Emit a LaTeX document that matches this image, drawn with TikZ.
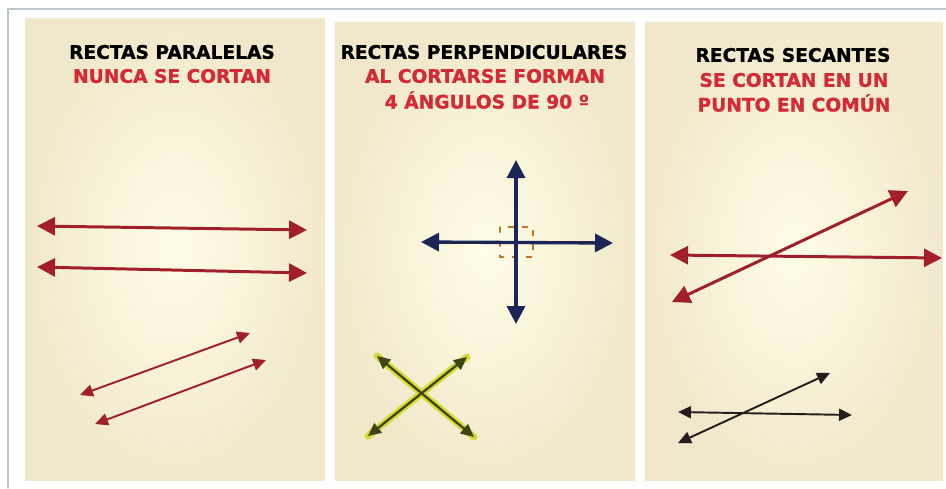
\documentclass[tikz,border=0pt]{standalone}
\usepackage{fontspec}
\setmainfont{DejaVu Sans}
\newfontfamily\headfont{DejaVu Sans Bold}[FakeBold=1.2]
\usetikzlibrary{arrows.meta}
\definecolor{frameGray}{HTML}{BCC6CE}
\definecolor{paperIn}{HTML}{FFFDE6}
\definecolor{paperOut}{HTML}{F1E8CB}
\definecolor{titleRed}{HTML}{D42A34}
\definecolor{lineRed}{HTML}{A11F2B}
\definecolor{lineNavy}{HTML}{1C2656}
\definecolor{lineOlive}{HTML}{3F4512}
\definecolor{glowYel}{HTML}{D4DC36}
\definecolor{markOrange}{HTML}{C8731E}
\definecolor{lineBlack}{HTML}{261E1E}

\begin{document}
\begin{tikzpicture}[
  x=0.02cm, y=-0.02cm,
  line cap=round,
  panel/.style={inner color=paperIn, outer color=paperOut},
  headblack/.style={font=\headfont\fontsize{10.6}{12}\selectfont, text=black, inner sep=0pt},
  headred/.style={font=\headfont\fontsize{10.6}{12}\selectfont, text=titleRed, inner sep=0pt},
  bigline/.style={line width=1.7pt, >={Triangle[length=3.6mm,width=3.6mm]}, <->},
  smallline/.style={line width=1.1pt, >={Triangle[length=2.6mm,width=2.4mm]}, <->}
]
  \useasboundingbox (0,0) rectangle (946,488);

  % Page frame
  \draw[frameGray, line width=0.6pt] (8,488) -- (8,9) -- (946,9);

  % Panels
  \shade[panel] (25,18) rectangle (325,480);
  \shade[panel] (335,22) rectangle (635,480);
  \shade[panel] (645,22) rectangle (943,480);

  % Titles
  \node[headblack] (parTitle) at (172,52) {RECTAS PARALELAS};
  \node[headred] (parText) at (172,76) {NUNCA SE CORTAN};

  \node[headblack] (perTitle) at (484,52) {RECTAS PERPENDICULARES};
  \node[headred] (perTextA) at (485,76) {AL CORTARSE FORMAN};
  \node[headred] (perTextB) at (487,100) {4 ÁNGULOS DE 90 º};

  \node[headblack] (secTitle) at (793,55) {RECTAS SECANTES};
  \node[headred] (secTextA) at (794,80) {SE CORTAN EN UN};
  \node[headred] (secTextB) at (794,103) {PUNTO EN COMÚN};

  % Parallel lines
  \coordinate (pa1) at (37,226);
  \coordinate (pa2) at (307,230);
  \coordinate (pb1) at (37,267);
  \coordinate (pb2) at (307,273);
  \draw[bigline, lineRed] (pa1) -- (pa2);
  \draw[bigline, lineRed] (pb1) -- (pb2);

  \coordinate (pc1) at (80,395);
  \coordinate (pc2) at (250,333);
  \coordinate (pd1) at (95,424);
  \coordinate (pd2) at (266,360);
  \draw[smallline, lineRed] (pc1) -- (pc2);
  \draw[smallline, lineRed] (pd1) -- (pd2);

  % Perpendicular lines
  \coordinate (vt) at (516,160);
  \coordinate (vb) at (516,324);
  \coordinate (hl) at (421,242);
  \coordinate (hr) at (613,243);
  \draw[markOrange, line width=0.6pt, dash pattern=on 3pt off 5pt] (500,227) rectangle (533,257);
  \draw[bigline, lineNavy, line width=1.9pt] (hl) -- (hr);
  \draw[bigline, lineNavy, line width=1.9pt] (vt) -- (vb);

  % Crossing lines (green)
  \coordinate (xa1) at (377,356);
  \coordinate (xa2) at (474,437);
  \coordinate (xb1) at (368,436);
  \coordinate (xb2) at (467,357);
  \draw[glowYel, line width=4pt] (xa1) -- (xa2);
  \draw[glowYel, line width=4pt] (xb1) -- (xb2);
  \draw[smallline, lineOlive, line width=1.3pt] (xa1) -- (xa2);
  \draw[smallline, lineOlive, line width=1.3pt] (xb1) -- (xb2);

  % Secant lines
  \coordinate (sa1) at (670,255);
  \coordinate (sa2) at (942,258);
  \coordinate (sb1) at (672,302);
  \coordinate (sb2) at (908,191);
  \draw[bigline, lineRed] (sa1) -- (sa2);
  \draw[bigline, lineRed] (sb1) -- (sb2);

  \coordinate (sc1) at (678,412);
  \coordinate (sc2) at (852,415);
  \coordinate (sd1) at (678,443);
  \coordinate (sd2) at (830,373);
  \draw[smallline, lineBlack] (sc1) -- (sc2);
  \draw[smallline, lineBlack] (sd1) -- (sd2);
\end{tikzpicture}
\end{document}
